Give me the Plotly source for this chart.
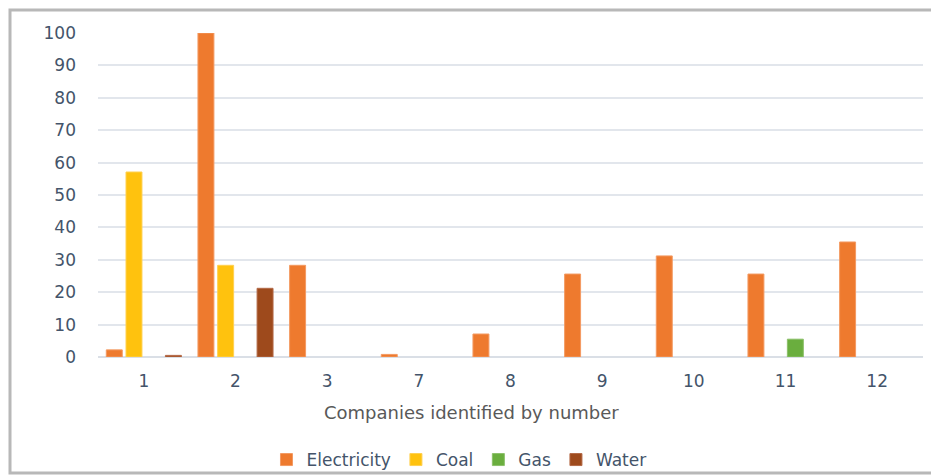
import plotly.graph_objects as go

# Companies and consumption values per resource type
companies = ["1", "2", "3", "7", "8", "9", "10", "11", "12"]
electricity = [2.2, 100, 28.3, 0.8, 7.1, 25.6, 31.2, 25.6, 35.5]
coal = [57.1, 28.3, None, None, None, None, None, None, None]
gas = [None, None, None, None, None, None, None, 5.5, None]
water = [0.5, 21.2, None, None, None, None, None, None, None]

y_ticks = [0, 10, 20, 30, 40, 50, 60, 70, 80, 90, 100]

series = [
    ("Electricity", electricity, "#EE7A2E", "#F39A62"),
    ("Coal", coal, "#FFC20E", "#FFD050"),
    ("Gas", gas, "#6AAE3E", "#8CC06A"),
    ("Water", water, "#9E4A1C", "#B46A48"),
]

fig = go.Figure()
for name, vals, col, edge in series:
    fig.add_trace(go.Bar(
        x=companies, y=vals, name=name,
        marker=dict(color=col, line=dict(color=edge, width=1)),
    ))

font_family = "DejaVu Sans, sans-serif"
tick_color = "#44546A"

fig.update_layout(
    width=931, height=476,
    margin=dict(l=98, r=8, t=33, b=119, autoexpand=False),
    paper_bgcolor="white", plot_bgcolor="white",
    barmode="group", bargap=0.14, bargroupgap=0.19,
    font=dict(family=font_family, size=17, color=tick_color),
    showlegend=True,
    legend=dict(orientation="h", xref="container", yref="container",
                x=0.493, y=1 - 460 / 476, xanchor="center", yanchor="middle",
                bgcolor="rgba(0,0,0,0)",
                font=dict(size=17, color=tick_color), itemwidth=30, traceorder="normal"),
    xaxis=dict(type="category", showgrid=False, showline=False, ticks="",
               ticklabelstandoff=12,
               tickfont=dict(size=17, color=tick_color)),
    yaxis=dict(range=[0, 100], tickvals=y_ticks, showgrid=True, gridcolor="#E2E6EC",
               gridwidth=1.5, zeroline=True, zerolinecolor="#DADFE6", zerolinewidth=1.5,
               showline=False, ticks="", ticklabelstandoff=21,
               tickfont=dict(size=17, color=tick_color)),
    annotations=[dict(
        text="Companies identified by number", xref="paper", yref="paper",
        x=(471 - 98) / 825, y=(357 - 413) / 324, xanchor="center", yanchor="middle",
        showarrow=False,
        font=dict(size=18, color="#595959", family=font_family),
    )],
    shapes=[dict(
        type="rect", xref="paper", yref="paper",
        x0=(10 - 98) / 825, x1=1.05, y0=(357 - 473) / 324, y1=(357 - 10) / 324,
        line=dict(color="#B8B8B8", width=3), fillcolor="rgba(0,0,0,0)", layer="below",
    )],
)

fig.write_html("out.html")
